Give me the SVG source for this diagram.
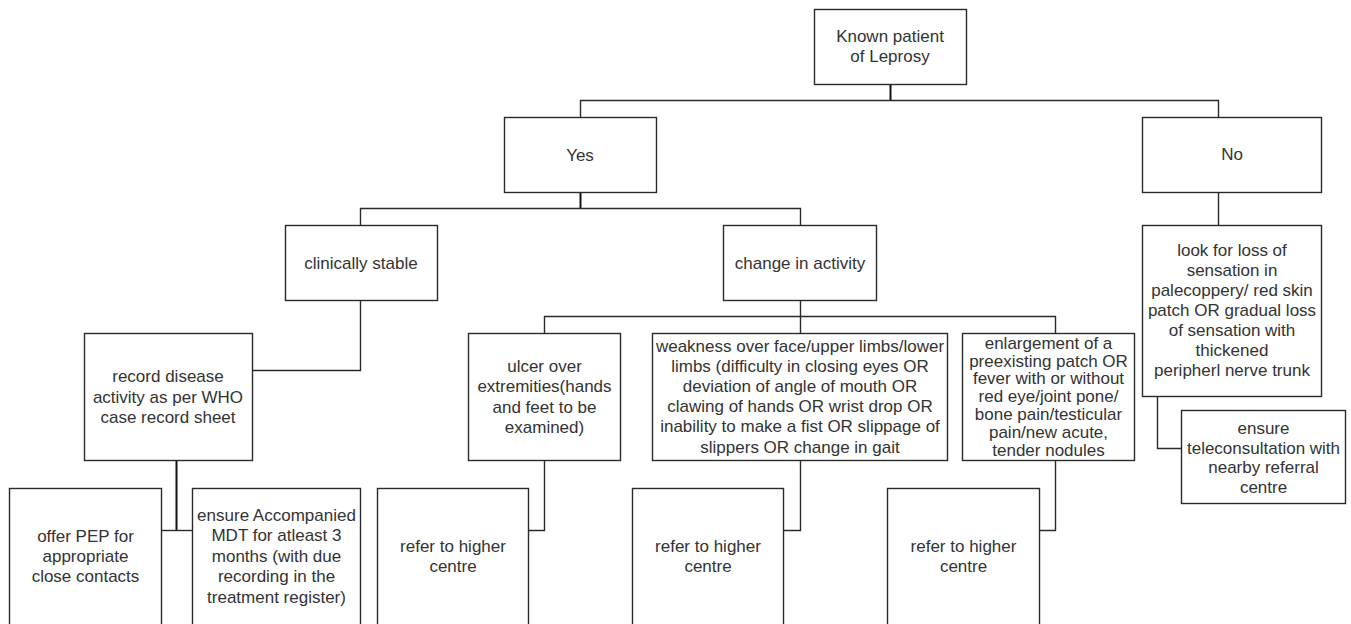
<svg xmlns="http://www.w3.org/2000/svg" width="1351" height="624" viewBox="0 0 1351 624">
<style>
.box{fill:#fff;stroke:#2a2a2a;stroke-width:1.4}
.t{font-family:"Liberation Sans",Arial,sans-serif;font-size:17px;fill:#333;text-anchor:middle}
.c{fill:none;stroke:#2a2a2a;stroke-width:1.4}
.s{fill:none;stroke:#111;stroke-width:2}
</style>
<rect width="1351" height="624" fill="#fff"/>
<g id="connectors">
<path class="s" d="M890.5 84V100.5"/>
<path class="c" d="M580.5 117V100.5H1218.5V117"/>
<path class="s" d="M580.5 193V208.5"/>
<path class="c" d="M360.5 225V208.5H800.5V225"/>
<path class="c" d="M360.5 301V370.5H252"/>
<path class="c" d="M800.5 301V333"/>
<path class="c" d="M544.5 333V316.5H1055.5V333"/>
<path class="s" d="M176.5 461V530.5"/>
<path class="c" d="M161 530.5H192"/>
<path class="c" d="M544.5 461V530.5H528"/>
<path class="c" d="M800.5 461V530.5H783"/>
<path class="c" d="M1055.5 461V530.5H1039"/>
<path class="c" d="M1218.5 193V225"/>
<path class="c" d="M1157.5 397V448.5H1181"/>
</g>
<g id="known"><rect class="box" x="814.5" y="9.5" width="152" height="75"/><text class="t" x="890" y="42">Known patient</text><text class="t" x="890" y="62">of Leprosy</text></g>
<g id="yes"><rect class="box" x="504.5" y="117.5" width="152" height="75"/><text class="t" x="580" y="161">Yes</text></g>
<g id="no"><rect class="box" x="1142.5" y="117.5" width="179" height="75"/><text class="t" x="1232" y="160">No</text></g>
<g id="stable"><rect class="box" x="285.5" y="225.5" width="152" height="75"/><text class="t" x="361" y="269">clinically stable</text></g>
<g id="change"><rect class="box" x="723.5" y="225.5" width="153" height="75"/><text class="t" x="800" y="269">change in activity</text></g>
<g id="look"><rect class="box" x="1142.5" y="225.5" width="179" height="171"/>
<text class="t" x="1232" y="256">look for loss of</text>
<text class="t" x="1232" y="276">sensation in</text>
<text class="t" x="1232" y="296">palecoppery/ red skin</text>
<text class="t" x="1232" y="316">patch OR gradual loss</text>
<text class="t" x="1232" y="336">of sensation with</text>
<text class="t" x="1232" y="356">thickened</text>
<text class="t" x="1232" y="376">peripherl nerve trunk</text></g>
<g id="record"><rect class="box" x="84.5" y="333.5" width="168" height="127"/>
<text class="t" x="168" y="382">record disease</text>
<text class="t" x="168" y="402.5">activity as per WHO</text>
<text class="t" x="168" y="423">case record sheet</text></g>
<g id="ulcer"><rect class="box" x="468.5" y="333.5" width="152" height="127"/>
<text class="t" x="544.5" y="372">ulcer over</text>
<text class="t" x="544.5" y="392.3">extremities(hands</text>
<text class="t" x="544.5" y="412.6">and feet to be</text>
<text class="t" x="544.5" y="433">examined)</text></g>
<g id="weakness"><rect class="box" x="652.5" y="333.5" width="295" height="127"/>
<text class="t" x="800" y="351.5">weakness over face/upper limbs/lower</text>
<text class="t" x="800" y="371.7">limbs (difficulty in closing eyes OR</text>
<text class="t" x="800" y="391.9">deviation of angle of mouth OR</text>
<text class="t" x="800" y="412.1">clawing of hands OR wrist drop OR</text>
<text class="t" x="800" y="432.3">inability to make a fist OR slippage of</text>
<text class="t" x="800" y="452.5">slippers OR change in gait</text></g>
<g id="enlargement"><rect class="box" x="962.5" y="333.5" width="172" height="127"/>
<text class="t" x="1048.5" y="348.7">enlargement of a</text>
<text class="t" x="1048.5" y="366.5">preexisting patch OR</text>
<text class="t" x="1048.5" y="384.3">fever with or without</text>
<text class="t" x="1048.5" y="402.1">red eye/joint pone/</text>
<text class="t" x="1048.5" y="419.9">bone pain/testicular</text>
<text class="t" x="1048.5" y="437.7">pain/new acute,</text>
<text class="t" x="1048.5" y="455.5">tender nodules</text></g>
<g id="tele"><rect class="box" x="1181.5" y="410.5" width="164" height="93"/>
<text class="t" x="1263.5" y="434">ensure</text>
<text class="t" x="1263.5" y="453.5">teleconsultation with</text>
<text class="t" x="1263.5" y="473">nearby referral</text>
<text class="t" x="1263.5" y="492.5">centre</text></g>
<g id="offer"><rect class="box" x="9.5" y="488.5" width="152" height="140"/>
<text class="t" x="85.5" y="542">offer PEP for</text>
<text class="t" x="85.5" y="562">appropriate</text>
<text class="t" x="85.5" y="582">close contacts</text></g>
<g id="mdt"><rect class="box" x="192.5" y="488.5" width="168" height="140"/>
<text class="t" x="276.5" y="521">ensure Accompanied</text>
<text class="t" x="276.5" y="541.4">MDT for atleast 3</text>
<text class="t" x="276.5" y="561.8">months (with due</text>
<text class="t" x="276.5" y="582.2">recording in the</text>
<text class="t" x="276.5" y="602.6">treatment register)</text></g>
<g id="refer1"><rect class="box" x="377.5" y="488.5" width="151" height="140"/>
<text class="t" x="453" y="552">refer to higher</text>
<text class="t" x="453" y="572">centre</text></g>
<g id="refer2"><rect class="box" x="632.5" y="488.5" width="151" height="140"/>
<text class="t" x="708" y="552">refer to higher</text>
<text class="t" x="708" y="572">centre</text></g>
<g id="refer3"><rect class="box" x="887.5" y="488.5" width="152" height="140"/>
<text class="t" x="963.5" y="552">refer to higher</text>
<text class="t" x="963.5" y="572">centre</text></g>
</svg>
